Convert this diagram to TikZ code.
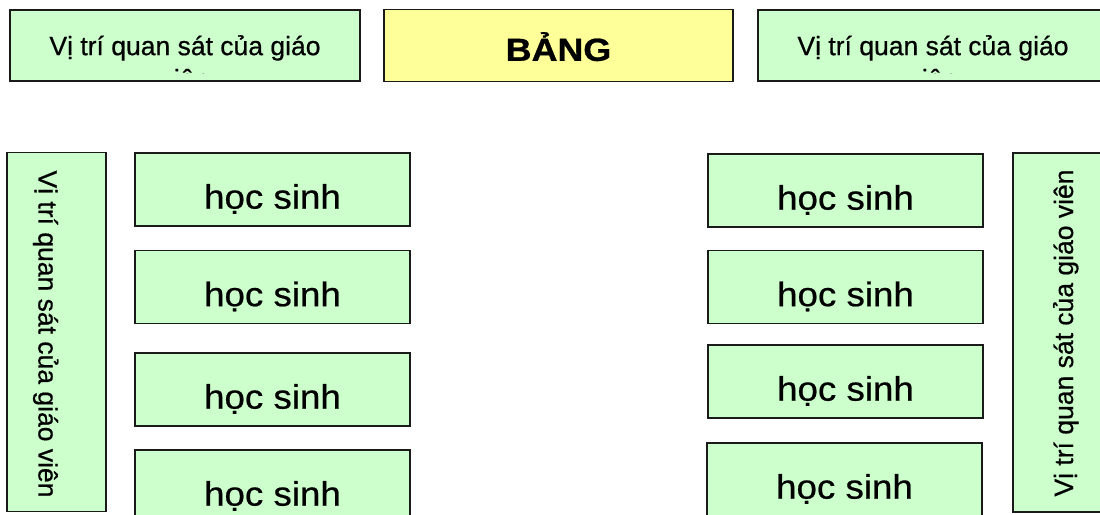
\documentclass[tikz,border=0pt]{standalone}
\usepackage{fontspec}
\setmainfont{Liberation Sans}
\newfontfamily\heavyfont{Liberation Sans}[FakeBold=0.6]
\newfontfamily\boardfont{Liberation Sans}[UprightFont={* Bold}, FakeBold=0.8]
\definecolor{boxgreen}{HTML}{CCFFCC}
\definecolor{boxyellow}{HTML}{FFFF99}
\definecolor{boxline}{HTML}{1A1A1A}
\begin{document}
\begin{tikzpicture}[x=1pt,y=-1pt,
  anybox/.style={draw=boxline, line width=1.7pt, rectangle, inner sep=0pt},
  seatbox/.style={anybox, fill=boxgreen, minimum width=275pt, minimum height=73pt},
  obsbox/.style={anybox, fill=boxgreen, minimum width=350pt, minimum height=71pt},
  sidebox/.style={anybox, fill=boxgreen, minimum width=99pt, minimum height=359pt},
  boardbox/.style={anybox, fill=boxyellow, minimum width=349pt, minimum height=72pt},
  seattext/.style={inner sep=0pt, anchor=base, font=\heavyfont\fontsize{34}{40}\selectfont},
  obstext/.style={inner sep=0pt, anchor=base, font=\heavyfont\fontsize{26.5}{32}\selectfont},
  boardtext/.style={inner sep=0pt, anchor=base, font=\boardfont\fontsize{32}{38}\selectfont}]
\useasboundingbox (0,0) rectangle (1100,514);

% top row
\node[obsbox] (TL) at (185,45.5) {};
\node[boardbox] (B) at (558.5,45.5) {};
\node[obsbox] (TR) at (933,45.5) {};
\node[boardtext] (Bt) at ([yshift=-52.2pt]B.north) {\scalebox{1.12}[1]{BẢNG}};

\begin{scope}
  \clip ([xshift=1pt,yshift=8.5pt]TL.south west) rectangle ([xshift=-1pt,yshift=-1pt]TL.north east);
  \node[obstext] (TLt1) at ([yshift=-46pt]TL.north) {Vị trí quan sát của giáo};
  \node[obstext] (TLt2) at ([yshift=-79pt]TL.north) {viên};
\end{scope}
\begin{scope}
  \clip ([xshift=1pt,yshift=8.5pt]TR.south west) rectangle ([xshift=-1pt,yshift=-1pt]TR.north east);
  \node[obstext] (TRt1) at ([yshift=-46pt]TR.north) {Vị trí quan sát của giáo};
  \node[obstext] (TRt2) at ([yshift=-79pt]TR.north) {viên};
\end{scope}

% side observation boxes
\node[sidebox] (SL) at (56.5,332) {};
\node[obstext, rotate=-90] (SLt) at (38.5,334) {Vị trí quan sát của giáo viên};
\node[sidebox] (SR) at (1062.5,332.5) {};
\node[obstext, rotate=90] (SRt) at (1073,333) {Vị trí quan sát của giáo viên};

% left students
\node[seatbox] (L1) at (272.5,189.5) {};
\node[seatbox] (L2) at (272.5,287) {};
\node[seatbox] (L3) at (272.5,389.5) {};
\node[seatbox] (L4) at (272.5,486.5) {};
% right students
\node[seatbox] (R1) at (845.5,190.5) {};
\node[seatbox] (R2) at (845.5,287) {};
\node[seatbox] (R3) at (845.5,381.5) {};
\node[seatbox] (R4) at (844.5,479.5) {};

\foreach \s in {L1,L2,L3,L4,R1,R2,R3,R4}{
  \node[seattext] (\s t) at ([yshift=-56.5pt]\s.north) {\scalebox{1.08}[1]{học sinh}};
}
\end{tikzpicture}
\end{document}
